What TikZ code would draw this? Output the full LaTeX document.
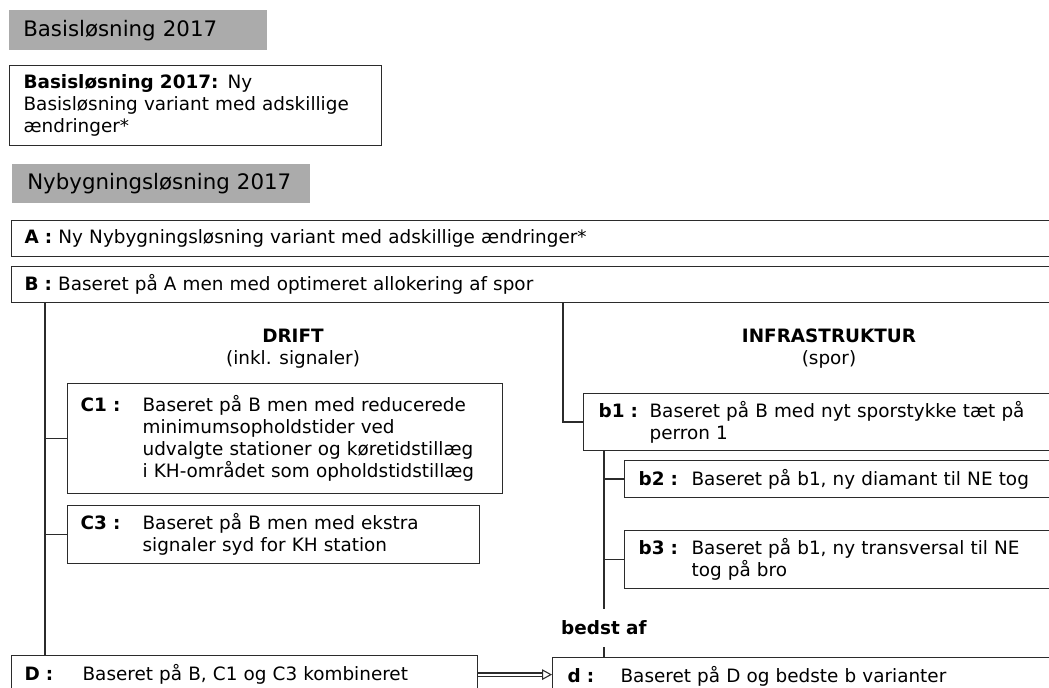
\documentclass[tikz,border=0pt]{standalone}
\usepackage{fontspec}
\setmainfont{DejaVu Sans}
\usetikzlibrary{arrows.meta}
\definecolor{hdgray}{HTML}{ABABAB}
\definecolor{rim}{HTML}{2B2B2B}
\newcommand{\lbl}[2]{\makebox[#1][l]{\textbf{#2}}}
\newcommand{\ind}[1]{\hspace*{#1}}
\tikzset{
	txt/.style={font=\fontsize{13.8}{16.5}\selectfont},
	hdbox/.style={fill=hdgray, anchor=north west, align=left, inner ysep=0pt,
		font=\fontsize{16}{19}\selectfont},
	varbox/.style={draw=rim, line width=.9pt, anchor=north west, align=left,
		inner ysep=0pt, txt},
	link/.style={draw=rim, line width=1.2pt},
	dbl/.style={draw=rim, line width=.8pt, double=white, double distance=1.6pt,
		-{Triangle[open,length=7.5pt,width=8pt]}}
}
\begin{document}
\begin{tikzpicture}[x=.75pt,y=-.75pt]
				\useasboundingbox (0,0) rectangle (1049,687);
				\clip (0,0) rectangle (1049,687);
				\coordinate (tl) at (45,0);
				\coordinate (tr) at (563,0);
				\coordinate (tb) at (604,0);
				%
				\node[hdbox, inner xsep=10.5pt, text width=172.5pt, minimum height=30pt] (hdA) at (9,10) {Basisløsning 2017};
				\node[varbox, inner xsep=10.5pt, text width=258pt, minimum height=60pt] (basis) at (9,65)
					{\textbf{Basisløsning 2017:} Ny\\Basisløsning variant med adskillige\\ændringer*};
				\node[hdbox, inner xsep=11.25pt, text width=201pt, minimum height=29.25pt] (hdB) at (12,164) {Nybygningsløsning 2017};
				%
				\node[varbox, inner xsep=9.75pt, text width=782.25pt, minimum height=27pt] (A) at (11,220)
					{\textbf{A :} Ny Nybygningsløsning variant med adskillige ændringer*};
				\node[varbox, inner xsep=9.75pt, text width=782.25pt, minimum height=27pt] (B) at (11,266)
					{\textbf{B :} Baseret på A men med optimeret allokering af spor};
				%
				\node[txt, align=center] (drift) at (293,349) {\textbf{DRIFT}\\(inkl. signaler)};
				\node[txt, align=center] (infra) at (829,349) {\textbf{INFRASTRUKTUR}\\(spor)};
				%
				\node[varbox, inner xsep=9.75pt, text width=306.75pt, minimum height=82.5pt] (C1) at (67,383)
					{\lbl{46.5pt}{C1 :}Baseret på B men med reducerede\\
					\ind{46.5pt}minimumsopholdstider ved\\
					\ind{46.5pt}udvalgte stationer og køretidstillæg\\
					\ind{46.5pt}i KH-området som opholdstidstillæg};
				\node[varbox, inner xsep=9.75pt, text width=289.5pt, minimum height=43.5pt] (C3) at (67,505)
					{\lbl{46.5pt}{C3 :}Baseret på B men med ekstra\\
					\ind{46.5pt}signaler syd for KH station};
				%
				\node[varbox, inner xsep=11.25pt, text width=350.25pt, minimum height=42.75pt] (b1) at (583,393)
					{\lbl{38.25pt}{b1 :}Baseret på B med nyt sporstykke tæt på\\
					\ind{38.25pt}perron 1};
				\node[varbox, inner xsep=10.5pt, text width=321pt, minimum height=27.75pt] (b2) at (624,460)
					{\lbl{39.75pt}{b2 :}Baseret på b1, ny diamant til NE tog};
				\node[varbox, inner xsep=10.5pt, text width=321pt, minimum height=43.5pt] (b3) at (624,530)
					{\lbl{39.75pt}{b3 :}Baseret på b1, ny transversal til NE\\
					\ind{39.75pt}tog på bro};
				\node[txt, inner sep=0pt, minimum height=28.5pt] (best) at (604,628) {\textbf{bedst af}};
				%
				\node[varbox, inner xsep=9.75pt, text width=330pt, minimum height=28.5pt] (D) at (11,655)
					{\lbl{43.5pt}{D :}Baseret på B, C1 og C3 kombineret};
				\node[varbox, inner xsep=11.25pt, text width=373.5pt, minimum height=28.5pt] (d) at (552,657)
					{\lbl{39.75pt}{d :}Baseret på D og bedste b varianter};
				%
				\draw[link] (tl |- B.south) -- (tl |- D.north);
				\foreach \n in {C1,C3}
				\draw[link] (tl |- \n.west) -- (\n.west);
				\draw[link] (tr |- B.south) |- (b1.west);
				\draw[link] (tb |- b1.south) -- (tb |- best.north);
				\draw[link] (tb |- best.south) -- (tb |- d.north);
				\foreach \n in {b2,b3}
				\draw[link] (tb |- \n.west) -- (\n.west);
				\draw[dbl] (D.east) -- (D.east -| d.west);
			\end{tikzpicture}
\end{document}
